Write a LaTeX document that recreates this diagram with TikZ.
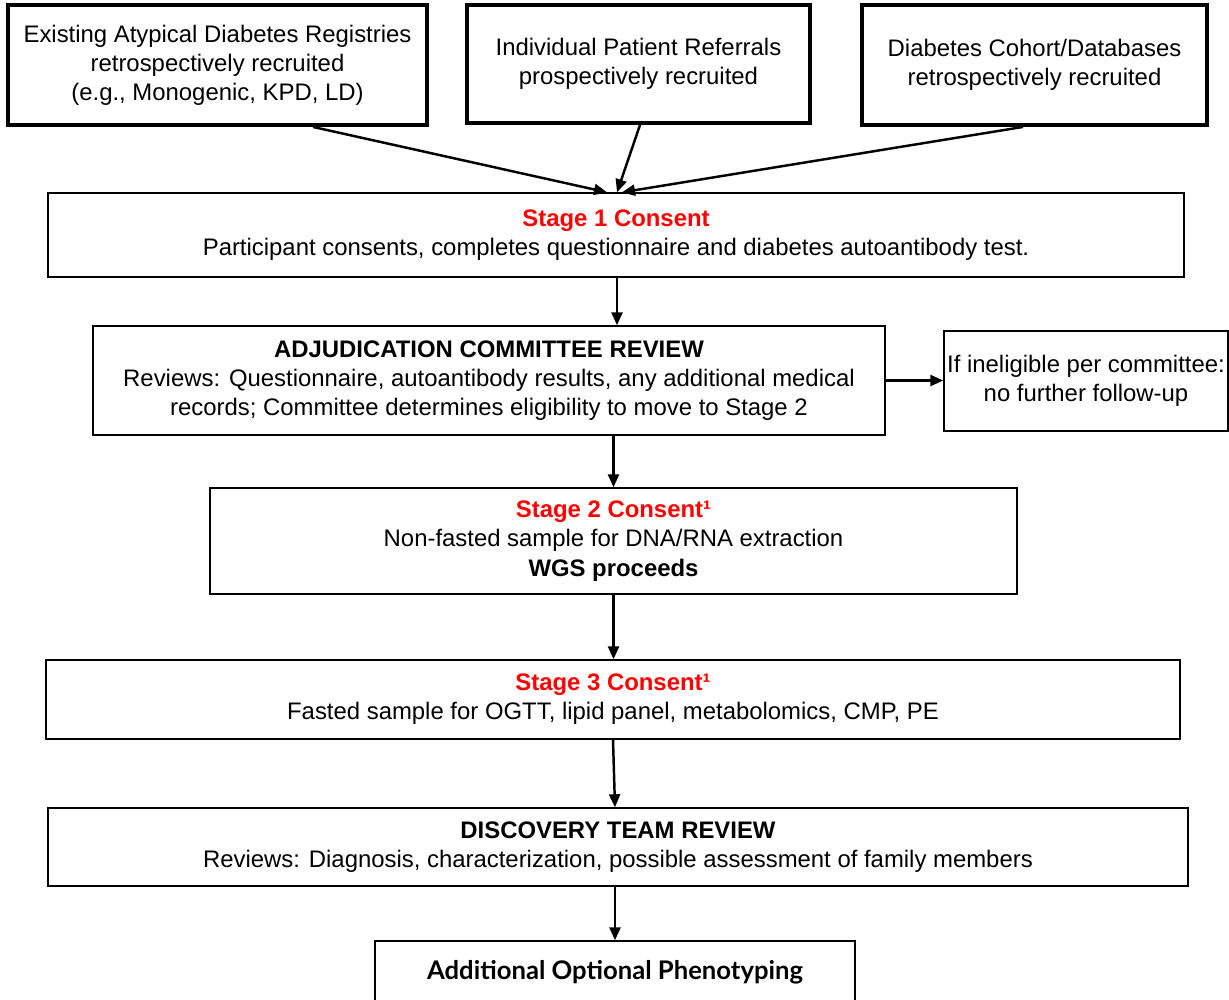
\documentclass[tikz,border=0pt]{standalone}
\usepackage{fontspec}
\setmainfont{Liberation Sans}
\newfontfamily\latofont{Lato}
\usetikzlibrary{arrows.meta, calc}

\definecolor{stagered}{RGB}{255,0,0}

\tikzset{
  sourcebox/.style={draw, line width=2.2pt, align=center, inner sep=0pt},
  stagebox/.style={draw, line width=0.8pt, align=center, inner sep=0pt},
  flow/.style={-{Triangle[length=0.26cm, width=0.22cm]}, line width=1.4pt},
  stagehead/.style={stagered, font=\bfseries}
}

\begin{document}
\begin{tikzpicture}[font=\fontsize{13.6}{16.6}\selectfont]
            \useasboundingbox (0,0) rectangle (24.58,-20);
            \clip (0,0) rectangle (24.58,-20);

            % Recruitment sources
            \node[sourcebox, minimum width=8.38cm, minimum height=2.4cm] (reg) at (4.35,-1.3)
                {Existing Atypical Diabetes Registries\\retrospectively recruited\\(e.g., Monogenic, KPD, LD)};
            \node[sourcebox, minimum width=6.86cm, minimum height=2.36cm] (ref) at (12.77,-1.28)
                {Individual Patient Referrals\\prospectively recruited};
            \node[sourcebox, minimum width=6.9cm, minimum height=2.4cm] (coh) at (20.69,-1.3)
                {Diabetes Cohort/Databases\\retrospectively recruited};

            % Stage 1
            \node[stagebox, minimum width=22.72cm, minimum height=1.68cm] (s1) at (12.32,-4.7)
                {\textcolor{stagered}{\bfseries Stage 1 Consent}\\Participant consents, completes questionnaire and diabetes autoantibody test.};

            % Committee review and side branch
            \node[stagebox, minimum width=15.84cm, minimum height=2.18cm] (adj) at (9.78,-7.61)
                {\bfseries ADJUDICATION COMMITTEE REVIEW\\Reviews: Questionnaire, autoantibody results, any additional medical\\records; Committee determines eligibility to move to Stage 2};
            \node[stagebox, minimum width=5.68cm, minimum height=2cm] (inel) at (21.72,-7.62)
                {If ineligible per committee:\\no further follow-up};

            % Stage 2
            \node[stagebox, minimum width=16.14cm, minimum height=2.12cm] (s2) at (12.27,-10.82)
                {\textcolor{stagered}{\bfseries Stage 2 Consent¹}\\Non-fasted sample for DNA/RNA extraction\\\bfseries WGS proceeds};

            % Stage 3
            \node[stagebox, minimum width=22.68cm, minimum height=1.58cm] (s3) at (12.26,-13.99)
                {\textcolor{stagered}{\bfseries Stage 3 Consent¹}\\Fasted sample for OGTT, lipid panel, metabolomics, CMP, PE};

            % Discovery team
            \node[stagebox, minimum width=22.8cm, minimum height=1.56cm] (disc) at (12.36,-16.94)
                {\bfseries DISCOVERY TEAM REVIEW\\Reviews: Diagnosis, characterization, possible assessment of family members};

            % Optional phenotyping (runs off the page)
            \node[stagebox, minimum width=9.6cm, minimum height=1.24cm,
                  font=\fontsize{14.6}{17}\selectfont\latofont\bfseries] (pheno) at (12.3,-19.44)
                {Additional Optional Phenotyping};

            % Connectors
            \draw[flow] ($(reg.south)+(1.91,0)$) -- ($(s1.north)+(-0.18,0)$);
            \draw[flow] ($(ref.south)+(0.03,0)$) -- ($(s1.north)+(0.02,0)$);
            \draw[flow] ($(coh.south)+(-0.23,0)$) -- ($(s1.north)+(0.12,0)$);
            \draw[flow] ($(s1.south)+(0.02,0)$) -- ($(s1.south |- adj.north)+(0.02,0)$);
            \draw[flow] (adj.east) -- (adj.east -| inel.west);
            \draw[flow] (s2.north |- adj.south) -- (s2.north);
            \draw[flow] (s2.south) -- (s2.south |- s3.north);
            \draw[flow] (s3.south) -- ($(s3.south |- disc.north)+(0.04,0)$);
            \draw[flow] (pheno.north |- disc.south) -- (pheno.north);
        \end{tikzpicture}
\end{document}
